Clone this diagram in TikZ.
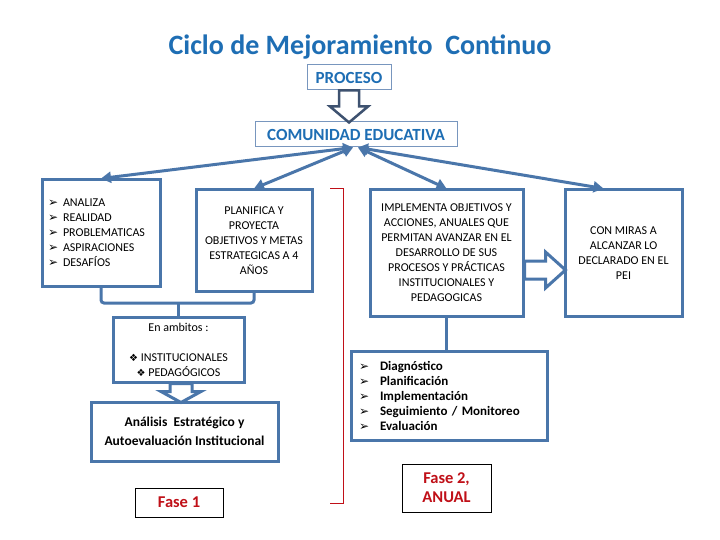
\documentclass[tikz,border=0pt]{standalone}
\usepackage{fontspec}
\setmainfont{Carlito}
\newfontfamily\symfont{DejaVu Sans}
\usetikzlibrary{arrows.meta,calc}
\definecolor{boxblue}{RGB}{74,118,170}
\definecolor{titleblue}{RGB}{30,110,180}
\definecolor{arrowgray}{RGB}{62,82,112}
\definecolor{faseRed}{RGB}{192,16,24}
\definecolor{thinblue}{RGB}{120,150,190}
\newcommand{\flecha}{{\symfont\fontsize{12}{12}\selectfont ➢}}
\newcommand{\rombo}{{\symfont\fontsize{10}{10}\selectfont ❖}}
\begin{document}
\begin{tikzpicture}[x=1pt,y=-1pt,
  caja/.style={draw=boxblue,line width=3pt,fill=white,align=center,inner sep=0pt,font=\fontsize{12}{15}\selectfont},
  cajafina/.style={draw=thinblue,line width=1pt,text=titleblue,inner sep=0pt,font=\bfseries\fontsize{17}{20}\selectfont},
  fase/.style={draw=black,line width=0.8pt,text=faseRed,align=center,inner sep=0pt,font=\bfseries\fontsize{16.5}{19}\selectfont},
  enlace/.style={draw=boxblue,line width=3pt,{Triangle[length=10pt,width=11pt]}-{Triangle[length=10pt,width=11pt]}},
  union/.style={draw=boxblue,line width=3pt},
  hueca/.style={draw=boxblue,line width=3pt,fill=white,line join=miter}]
\useasboundingbox[fill=white] (0,0) rectangle (720,540);

\node[text=titleblue,font=\bfseries\fontsize{28}{32}\selectfont] (titulo) at (360,47) {Ciclo de Mejoramiento\ \ Continuo};
\node[cajafina,minimum width=84pt,minimum height=25pt] (proceso) at (349,77.5) {PROCESO};
\node[cajafina,minimum width=202pt,minimum height=25pt] (comunidad) at (356,134.5) {COMUNIDAD EDUCATIVA};

% fila de cajas
\node[caja,align=left,text width=106pt,inner xsep=6pt,minimum width=118pt,minimum height=106pt] (analiza) at (101,233)
  {\makebox[15pt][l]{\flecha}ANALIZA\\ \makebox[15pt][l]{\flecha}REALIDAD\\ \makebox[15pt][l]{\flecha}PROBLEMATICAS\\
   \makebox[15pt][l]{\flecha}ASPIRACIONES\\ \makebox[15pt][l]{\flecha}DESAFÍOS};
\node[caja,minimum width=116pt,minimum height=101pt] (planifica) at (254,240.5)
  {PLANIFICA Y\\ PROYECTA\\ OBJETIVOS Y METAS\\ ESTRATEGICAS A 4\\ AÑOS};
\node[caja,minimum width=153pt,minimum height=126pt] (implementa) at (446.5,253)
  {IMPLEMENTA OBJETIVOS Y\\ ACCIONES, ANUALES QUE\\ PERMITAN AVANZAR EN EL\\ DESARROLLO DE SUS\\
   PROCESOS Y PRÁCTICAS\\ INSTITUCIONALES Y\\ PEDAGOGICAS};
\node[caja,minimum width=117pt,minimum height=126pt] (miras) at (623.5,253)
  {CON MIRAS A\\ ALCANZAR LO\\ DECLARADO EN EL\\ PEI};

% fase 1
\node[caja,minimum width=131pt,minimum height=65pt] (ambitos) at (178.5,349.5)
  {En ambitos :\\[15pt] \rombo\ INSTITUCIONALES\\ \rombo\ PEDAGÓGICOS};
\node[caja,font=\bfseries\fontsize{13.5}{19}\selectfont,minimum width=187pt,minimum height=59pt] (analisis) at (184.5,431.5)
  {Análisis\ \ Estratégico y\\ Autoevaluación Institucional};
\node[fase,minimum width=88pt,minimum height=29pt] (fase1) at (179,502.5) {Fase 1};

% fase 2
\node[caja,align=left,font=\bfseries\fontsize{13}{15}\selectfont,text width=180pt,inner xsep=8pt,minimum width=196pt,minimum height=89pt] (pasos) at (449,395.5)
  {\makebox[21pt][l]{\flecha}Diagnóstico\\ \makebox[21pt][l]{\flecha}Planificación\\ \makebox[21pt][l]{\flecha}Implementación\\
   \makebox[21pt][l]{\flecha}Seguimiento / Monitoreo\\ \makebox[21pt][l]{\flecha}Evaluación};
\node[fase,minimum width=89pt,minimum height=48pt] (fase2) at (446.5,488) {Fase 2,\\ ANUAL};

% flechas desde la comunidad
\draw[enlace] ([xshift=-3pt]comunidad.south) -- (analiza.north);
\draw[enlace] ([xshift=-3pt]comunidad.south) -- (planifica.north);
\draw[enlace] ([xshift=2pt]comunidad.south) -- (implementa.north);
\draw[enlace] ([xshift=2pt]comunidad.south) -- ([xshift=-20pt]miras.north);

\coordinate (cruce) at (ambitos.north |- 0,303);
\draw[union,rounded corners=3pt] (analiza.south) |- (cruce) -| (planifica.south);
\draw[union] (cruce) -- (ambitos.north);
\draw[union] (implementa.south) -- (implementa.south |- pasos.north);

% flechas huecas
\draw[hueca,draw=arrowgray,line width=2.5pt] ([xshift=-10pt]proceso.south) -- ++(0,16) -- ++(-9,0) -- ++(19,16) -- ++(19,-16) -- ++(-9,0) -- ++(0,-16) -- cycle;
\draw[hueca] ([xshift=-8.5pt]ambitos.south) -- ++(0,8) -- ++(-9,0) -- ++(20,11) -- ++(20,-11) -- ++(-9,0) -- ++(0,-8) -- cycle;
\draw[hueca] ([yshift=-8pt]implementa.east) -- ++(21,0) -- ++(0,-9) -- ++(20,18) -- ++(-20,18) -- ++(0,-9) -- ++(-21,0) -- cycle;

\draw[draw=faseRed,line width=0.9pt] (330,188) -- (343,188) -- (343,503) -- (330,503);
\end{tikzpicture}
\end{document}
